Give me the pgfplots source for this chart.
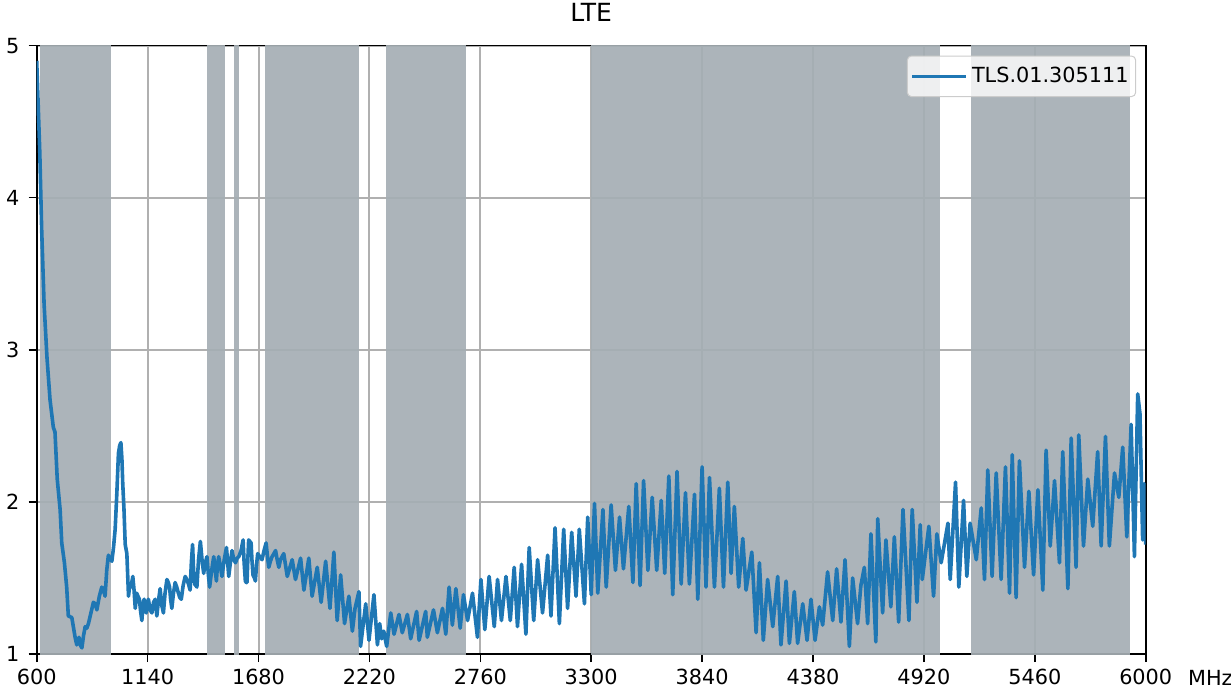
\documentclass[border=0pt]{standalone}
\usepackage{fontspec}
\setmainfont{DejaVu Sans}
\usepackage{pgfplots}
\usepackage{pgfplotstable}
\pgfplotsset{compat=1.18}
\definecolor{tabblue}{HTML}{1F77B4}
\definecolor{bandc}{RGB}{165,174,180}
\pgfplotstableread{
x y
600 4.90
605 4.70
615 4.30
624 3.80
636 3.30
650 2.95
665 2.67
681 2.49
689 2.46
700 2.15
714 1.95
722 1.73
735 1.60
746 1.44
754 1.25
771 1.24
787 1.11
795 1.06
806 1.11
812 1.06
820 1.04
828 1.12
836 1.18
844 1.17
852 1.20
864 1.27
876 1.34
885 1.33
893 1.29
905 1.38
917 1.44
925 1.42
933 1.38
941 1.55
949 1.65
958 1.62
966 1.61
974 1.70
982 1.82
990 2.05
998 2.32
1004 2.37
1010 2.39
1015 2.28
1019 2.12
1025 1.95
1031 1.72
1039 1.66
1047 1.38
1053 1.45
1059 1.44
1068 1.51
1074 1.42
1080 1.30
1087 1.40
1093 1.38
1100 1.36
1106 1.28
1112 1.22
1118 1.33
1123 1.36
1128 1.30
1133 1.27
1139 1.34
1144 1.36
1152 1.29
1161 1.27
1169 1.34
1177 1.36
1185 1.25
1193 1.35
1201 1.43
1209 1.32
1217 1.27
1225 1.40
1234 1.49
1241 1.47
1247 1.44
1252 1.36
1258 1.30
1266 1.40
1274 1.47
1282 1.44
1290 1.40
1297 1.37
1304 1.36
1313 1.45
1323 1.51
1331 1.49
1339 1.46
1347 1.42
1353 1.60
1359 1.72
1364 1.55
1369 1.46
1375 1.45
1380 1.44
1388 1.62
1397 1.74
1405 1.62
1413 1.53
1421 1.60
1429 1.64
1436 1.52
1442 1.44
1452 1.55
1462 1.64
1468 1.57
1475 1.48
1480 1.58
1486 1.64
1494 1.58
1502 1.51
1513 1.62
1524 1.70
1530 1.60
1535 1.51
1543 1.60
1551 1.68
1560 1.62
1568 1.60
1576 1.63
1584 1.64
1595 1.68
1605 1.75
1610 1.60
1616 1.48
1620 1.47
1624 1.47
1628 1.62
1632 1.75
1638 1.74
1644 1.73
1648 1.62
1653 1.52
1660 1.50
1665 1.48
1670 1.58
1676 1.66
1686 1.64
1697 1.62
1707 1.68
1717 1.73
1723 1.65
1730 1.57
1738 1.61
1746 1.64
1755 1.66
1763 1.68
1771 1.62
1779 1.57
1787 1.62
1803 1.66
1820 1.51
1844 1.62
1860 1.49
1885 1.63
1901 1.42
1925 1.63
1941 1.38
1966 1.57
1985 1.34
2007 1.61
2028 1.30
2047 1.67
2063 1.22
2080 1.52
2099 1.20
2120 1.38
2137 1.15
2150 1.30
2169 1.41
2177 1.05
2202 1.33
2218 1.09
2242 1.39
2259 1.06
2270 1.20
2280 1.10
2290 1.15
2304 1.05
2324 1.27
2340 1.13
2364 1.26
2380 1.14
2405 1.26
2421 1.10
2450 1.28
2462 1.09
2494 1.28
2502 1.11
2532 1.29
2551 1.14
2576 1.30
2592 1.13
2608 1.44
2624 1.19
2641 1.43
2662 1.17
2678 1.39
2698 1.22
2722 1.40
2746 1.11
2763 1.49
2782 1.16
2803 1.51
2828 1.18
2844 1.49
2863 1.22
2885 1.51
2906 1.22
2925 1.57
2941 1.18
2961 1.59
2982 1.13
2998 1.70
3020 1.22
3039 1.62
3063 1.27
3088 1.65
3104 1.25
3124 1.83
3145 1.20
3166 1.82
3185 1.30
3205 1.80
3226 1.38
3242 1.82
3267 1.33
3283 1.90
3300 1.39
3316 1.99
3332 1.40
3357 1.95
3373 1.44
3397 1.98
3418 1.55
3438 1.90
3457 1.56
3483 1.97
3503 1.47
3519 2.12
3538 1.45
3555 2.14
3576 1.55
3597 2.03
3619 1.55
3641 2.01
3658 1.53
3678 2.17
3697 1.39
3718 2.20
3738 1.46
3759 2.06
3778 1.46
3803 2.05
3819 1.36
3840 2.23
3859 1.44
3876 2.16
3900 1.44
3924 2.09
3944 1.44
3965 2.13
3981 1.53
3997 1.97
4018 1.44
4038 1.76
4054 1.42
4082 1.67
4103 1.14
4119 1.60
4138 1.09
4159 1.49
4184 1.18
4208 1.51
4224 1.06
4249 1.48
4265 1.07
4289 1.41
4305 1.07
4330 1.33
4351 1.09
4370 1.36
4390 1.09
4411 1.31
4427 1.19
4451 1.54
4476 1.22
4495 1.56
4516 1.21
4536 1.62
4557 1.05
4573 1.50
4597 1.20
4613 1.45
4630 1.57
4646 1.20
4662 1.79
4686 1.08
4695 1.89
4719 1.27
4735 1.75
4759 1.31
4776 1.77
4797 1.21
4818 1.95
4847 1.22
4863 1.95
4886 1.34
4902 1.85
4912 1.49
4944 1.84
4967 1.38
4983 1.79
5004 1.60
5037 1.86
5048 1.49
5074 2.13
5090 1.44
5113 2.01
5129 1.51
5145 1.86
5175 1.62
5199 1.96
5215 1.49
5231 2.21
5252 1.51
5272 2.19
5296 1.49
5317 2.23
5337 1.40
5350 2.31
5369 1.37
5385 2.27
5410 1.57
5431 2.07
5454 1.52
5475 2.08
5499 1.42
5515 2.34
5535 1.71
5556 2.14
5580 1.60
5596 2.33
5621 1.43
5637 2.42
5661 1.57
5674 2.44
5697 1.71
5718 2.15
5742 1.84
5766 2.33
5783 1.71
5804 2.43
5823 1.71
5848 2.19
5869 2.03
5888 2.36
5908 1.77
5929 2.51
5945 1.64
5961 2.71
5972 2.58
5985 1.75
5993 2.12
6000 1.72
}\datatable
\begin{document}
\begin{tikzpicture}
\begin{axis}[
  scale only axis, width=554.5pt, height=304.2pt,
  xmin=600, xmax=6000, ymin=1, ymax=5,
  xtick={600,1140,1680,2220,2760,3300,3840,4380,4920,5460,6000},
  ytick={1,2,3,4,5},
  grid=major,
  major grid style={color=black!31, line width=1pt},
  axis line style={line width=0.8pt},
  tick align=outside, major tick length=4pt,
  tick style={line width=0.8pt, black},
  xtick pos=left, ytick pos=left,
  tick label style={font=\fontsize{10.4}{12}\selectfont, inner sep=0pt},
  xticklabel style={anchor=north, yshift=-3.5pt},
  yticklabel style={anchor=east, xshift=-4.5pt},
  /pgf/number format/assume math mode=true,
  /pgf/number format/set thousands separator={},
  title={LTE},
  title style={at={(0.5,1)}, anchor=base, yshift=5.85pt, inner sep=0pt, font=\fontsize{12.5}{14}\selectfont},
  legend style={at={(rel axis cs:1,1)}, anchor=north east, xshift=-4.8pt, yshift=-5pt,
    draw=black!20, fill=white, fill opacity=0.8, text opacity=1, rounded corners=2pt,
    line width=0.5pt, font=\fontsize{10.4}{12}\selectfont, inner xsep=1.5pt, inner ysep=3.5pt},
  legend cell align=left,
  legend image code/.code={\draw[#1] (0pt,0pt) -- (22.5pt,0pt); \path (0pt,0pt) -- (27pt,0pt);},
]
\addplot[fill=bandc, fill opacity=0.92, draw=none, forget plot] coordinates {(617,0) (617,6) (960,6) (960,0)} -- cycle;
\addplot[fill=bandc, fill opacity=0.92, draw=none, forget plot] coordinates {(1427,0) (1427,6) (1518,6) (1518,0)} -- cycle;
\addplot[fill=bandc, fill opacity=0.92, draw=none, forget plot] coordinates {(1559,0) (1559,6) (1585,6) (1585,0)} -- cycle;
\addplot[fill=bandc, fill opacity=0.92, draw=none, forget plot] coordinates {(1710,0) (1710,6) (2170,6) (2170,0)} -- cycle;
\addplot[fill=bandc, fill opacity=0.92, draw=none, forget plot] coordinates {(2300,0) (2300,6) (2690,6) (2690,0)} -- cycle;
\addplot[fill=bandc, fill opacity=0.92, draw=none, forget plot] coordinates {(3300,0) (3300,6) (5000,6) (5000,0)} -- cycle;
\addplot[fill=bandc, fill opacity=0.92, draw=none, forget plot] coordinates {(5150,0) (5150,6) (5925,6) (5925,0)} -- cycle;
\addplot[tabblue, line width=1.8pt, line join=round] table[x=x, y=y] {\datatable};
\addlegendentry{TLS.01.305111}
\coordinate (sw) at (rel axis cs:0,0);
\coordinate (se) at (rel axis cs:1,0);
\coordinate (ne) at (rel axis cs:1,1);
\end{axis}
\node[anchor=base west, inner sep=0pt, font=\fontsize{10.4}{12}\selectfont] at ([xshift=21pt, yshift=-15.5pt]se) {MHz};
\pgfresetboundingbox
\path[use as bounding box] ([shift={(-18.35pt,-18.5pt)}]sw) rectangle ([shift={(42.65pt,22.8pt)}]ne);
\end{tikzpicture}
\end{document}
